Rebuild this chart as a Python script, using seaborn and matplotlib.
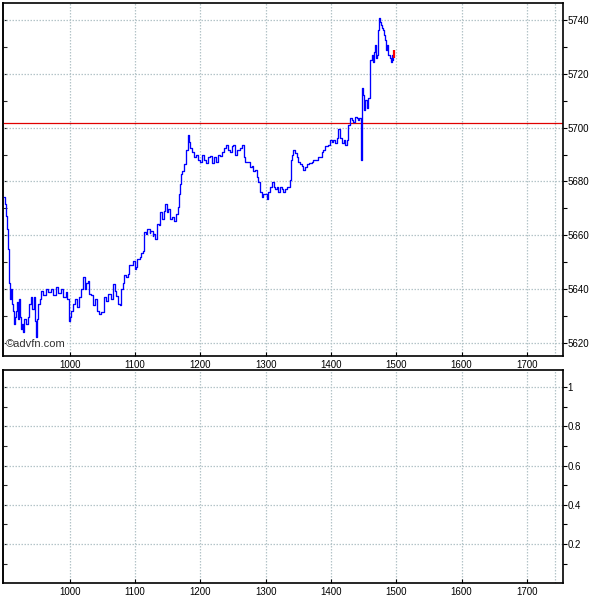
import matplotlib
matplotlib.use("Agg")
import matplotlib.pyplot as plt
import seaborn as sns
import pandas as pd
import numpy as np
from matplotlib.ticker import MultipleLocator, FixedLocator, NullFormatter

sns.set_style("white")
plt.rcParams['font.family'] = ['Liberation Sans', 'DejaVu Sans']

# ---- data ----
time = [899.0, 900.5, 902.1, 903.6, 905.1, 906.6, 908.2, 909.7, 911.2, 912.8,
        914.3, 915.8, 917.3, 918.9, 920.4, 921.9, 923.5, 925.0, 926.5, 928.1,
        929.6, 932.6, 935.7, 937.2, 940.3, 941.8, 944.9, 946.4, 947.9, 949.5,
        951.0, 954.0, 955.6, 958.6, 963.2, 966.2, 970.9, 973.9, 978.5, 981.5,
        986.2, 989.2, 993.8, 995.3, 998.4, 1000.0, 1001.5, 1004.5, 1007.6, 1010.7,
        1013.7, 1016.8, 1019.8, 1022.9, 1024.5, 1027.5, 1029.0, 1032.1, 1035.2, 1038.2,
        1041.3, 1044.3, 1047.4, 1052.0, 1055.0, 1058.1, 1062.7, 1065.7, 1068.8, 1070.3,
        1073.4, 1076.4, 1077.9, 1081.0, 1082.5, 1085.6, 1088.7, 1090.2, 1093.2, 1096.3,
        1099.4, 1100.9, 1103.9, 1107.0, 1108.5, 1111.6, 1113.1, 1116.2, 1119.2, 1122.3,
        1123.8, 1126.9, 1128.4, 1131.4, 1134.5, 1137.5, 1139.1, 1142.1, 1145.2, 1146.7,
        1149.8, 1151.3, 1154.3, 1157.4, 1160.5, 1163.5, 1166.6, 1168.1, 1169.6, 1171.2,
        1172.7, 1175.7, 1178.8, 1181.9, 1183.4, 1184.9, 1188.0, 1191.0, 1194.1, 1197.2,
        1200.2, 1203.3, 1206.3, 1209.4, 1212.5, 1215.5, 1218.6, 1221.6, 1224.7, 1227.8,
        1230.8, 1233.9, 1236.9, 1240.0, 1243.1, 1246.1, 1249.2, 1250.7, 1253.8, 1256.8,
        1261.4, 1264.5, 1267.5, 1269.1, 1273.6, 1276.7, 1279.8, 1281.3, 1284.3, 1287.4,
        1288.9, 1292.0, 1295.1, 1296.6, 1299.7, 1302.7, 1304.2, 1307.3, 1310.4, 1313.4,
        1314.9, 1318.0, 1319.5, 1322.6, 1325.7, 1327.2, 1330.2, 1333.3, 1336.3, 1337.9,
        1339.4, 1340.9, 1342.4, 1345.5, 1348.6, 1350.1, 1353.1, 1356.2, 1357.7, 1360.8,
        1363.9, 1366.9, 1368.4, 1371.5, 1373.0, 1376.1, 1379.2, 1380.7, 1383.7, 1386.8,
        1388.3, 1391.4, 1394.5, 1396.0, 1399.0, 1402.1, 1403.6, 1406.7, 1409.8, 1411.3,
        1414.3, 1417.4, 1420.5, 1422.0, 1425.0, 1426.6, 1429.6, 1432.7, 1434.2, 1437.3,
        1440.4, 1441.9, 1443.4, 1444.9, 1446.5, 1448.0, 1449.5, 1451.1, 1452.6, 1455.7,
        1457.2, 1460.2, 1463.3, 1464.8, 1466.4, 1467.9, 1469.4, 1471.0, 1472.5, 1474.0,
        1475.5, 1477.1, 1478.6, 1480.1, 1481.6, 1483.2, 1484.7, 1486.2, 1487.8, 1490.8,
        1492.3, 1493.9, 1495.4]

price = [5674.1, 5671.5, 5667.0, 5662.2, 5655.0, 5642.2, 5636.3, 5640.0, 5634.4, 5631.8,
         5627.0, 5629.6, 5631.8, 5635.2, 5628.9, 5636.3, 5629.6, 5625.2, 5627.0, 5624.1,
         5628.9, 5627.0, 5629.6, 5634.4, 5637.0, 5632.6, 5637.0, 5628.1, 5622.2, 5628.9,
         5634.4, 5636.3, 5639.3, 5637.8, 5640.0, 5638.9, 5640.0, 5637.8, 5640.7, 5638.5,
         5640.0, 5637.0, 5638.9, 5636.3, 5628.1, 5629.6, 5631.8, 5634.4, 5636.3, 5633.3,
         5637.0, 5640.0, 5644.4, 5640.0, 5642.2, 5643.0, 5638.1, 5637.8, 5634.1, 5636.3,
         5631.8, 5630.7, 5631.5, 5637.0, 5635.5, 5638.1, 5636.3, 5641.9, 5639.3, 5637.4,
         5634.4, 5634.1, 5640.0, 5642.2, 5645.2, 5644.4, 5645.5, 5648.9, 5648.9, 5650.4,
         5647.4, 5648.1, 5651.1, 5651.8, 5653.3, 5654.1, 5661.1, 5660.4, 5662.2, 5660.7,
         5661.5, 5659.6, 5660.4, 5658.5, 5664.1, 5663.7, 5668.5, 5665.9, 5668.9, 5671.5,
         5668.5, 5669.6, 5665.9, 5666.7, 5665.2, 5667.8, 5670.4, 5675.2, 5678.9, 5682.6,
         5683.7, 5686.3, 5691.8, 5697.4, 5694.8, 5692.6, 5691.1, 5688.9, 5690.0, 5688.1,
         5687.4, 5690.0, 5688.1, 5686.7, 5688.9, 5689.6, 5687.0, 5688.9, 5687.4, 5690.0,
         5689.6, 5691.1, 5692.6, 5693.7, 5691.8, 5691.1, 5693.0, 5693.7, 5690.0, 5691.8,
         5692.6, 5693.7, 5688.9, 5687.4, 5687.4, 5685.2, 5685.9, 5683.7, 5684.4, 5681.5,
         5679.6, 5675.9, 5674.1, 5675.5, 5675.2, 5673.3, 5675.9, 5677.8, 5679.6, 5678.1,
         5677.0, 5677.8, 5675.9, 5677.8, 5677.0, 5675.9, 5677.0, 5678.1, 5677.8, 5680.7,
         5688.1, 5690.0, 5691.8, 5690.7, 5688.9, 5687.4, 5686.3, 5685.9, 5684.4, 5685.2,
         5686.3, 5686.7, 5687.0, 5687.4, 5688.1, 5687.8, 5688.1, 5688.9, 5688.9, 5691.1,
         5691.8, 5693.0, 5693.3, 5693.7, 5695.5, 5694.8, 5695.5, 5694.4, 5696.3, 5699.3,
         5696.3, 5694.4, 5695.5, 5693.7, 5695.5, 5701.1, 5703.7, 5703.0, 5702.2, 5704.1,
         5703.7, 5703.0, 5703.7, 5703.7, 5688.1, 5714.8, 5712.2, 5706.7, 5710.4, 5707.4,
         5711.1, 5725.2, 5727.0, 5724.4, 5728.1, 5730.7, 5725.9, 5727.0, 5736.3, 5740.7,
         5739.3, 5738.1, 5737.0, 5736.3, 5734.4, 5732.6, 5728.9, 5730.7, 5727.0, 5725.9,
         5724.4, 5727.0, 5725.2]

last_time = 1496.9
last_range = [5725.9, 5728.9]
ref_level = 5701.8

x_ticks = [1000, 1100, 1200, 1300, 1400, 1500, 1600, 1700]
y_ticks_top = [5620, 5640, 5660, 5680, 5700, 5720, 5740]
y_ticks_bottom = [0.2, 0.4, 0.6, 0.8, 1.0]

df = pd.DataFrame({"time": time, "price": price})

fig = plt.figure(figsize=(6, 6), dpi=100)
ax1 = fig.add_axes([0.005, 0.407, 0.933, 0.588])
ax2 = fig.add_axes([0.005, 0.028, 0.933, 0.355])

grid_col = "#b4c4c8"
grid_ls = (0, (1.2, 1.2))
for ax in (ax1, ax2):
    ax.set_facecolor("white")
    for s in ax.spines.values():
        s.set_color("black")
        s.set_linewidth(1.2)
    ax.set_xlim(898, 1755)
    ax.xaxis.set_major_locator(FixedLocator(x_ticks))
    ax.yaxis.tick_right()
    ax.tick_params(axis="y", which="both", direction="out", length=3, width=0.8,
                   labelsize=7, pad=0.5, colors="black", left=False, right=True)
    ax.tick_params(axis="x", which="both", direction="in", length=3, width=0.8,
                   labelsize=7, pad=3, colors="black", bottom=True)
    ax.grid(True, which="major", color=grid_col, linestyle=grid_ls, linewidth=0.9)
    ax.axvline(1743, color=grid_col, linestyle=grid_ls, linewidth=0.9, zorder=1)

sns.lineplot(data=df, x="time", y="price", ax=ax1, color="#0000ff", linewidth=0.95,
             drawstyle="steps-post", estimator=None, sort=False, zorder=3)
ax1.vlines([last_time], last_range[0], last_range[1], color="#ff0000", linewidth=1.6, zorder=4)
ax1.axhline(ref_level, color="#e00000", linewidth=0.9, zorder=2)
ax1.set_ylim(5615.2, 5746.3)
ax1.yaxis.set_major_locator(FixedLocator(y_ticks_top))
ax1.yaxis.set_minor_locator(MultipleLocator(10))
ax1.set_yticklabels([str(v) for v in y_ticks_top])
ax1.set_xlabel("")
ax1.set_ylabel("")
ax1.text(0.006, 0.018, "\u00a9advfn.com", transform=ax1.transAxes, fontsize=8,
         color="#333333", ha="left", va="bottom", zorder=5,
         bbox=dict(facecolor="white", edgecolor="none", pad=0.3))

ax2.set_ylim(0, 1.087)
ax2.yaxis.set_major_locator(FixedLocator(y_ticks_bottom))
ax2.yaxis.set_minor_locator(FixedLocator([0.1, 0.3, 0.5, 0.7, 0.9]))
ax2.set_yticklabels(["0.2", "0.4", "0.6", "0.8", "1"])

# inward ticks on the left spine
for ax in (ax1, ax2):
    sec = ax.secondary_yaxis("left")
    sec.yaxis.set_major_locator(ax.yaxis.get_major_locator())
    sec.yaxis.set_minor_locator(ax.yaxis.get_minor_locator())
    sec.yaxis.set_major_formatter(NullFormatter())
    sec.yaxis.set_minor_formatter(NullFormatter())
    sec.tick_params(axis="y", which="both", direction="in", length=3, width=0.8)
    sec.spines["left"].set_linewidth(1.2)
    ax.set_xticklabels([str(v) for v in x_ticks])

fig.savefig("out.png", dpi=100, facecolor="white")
